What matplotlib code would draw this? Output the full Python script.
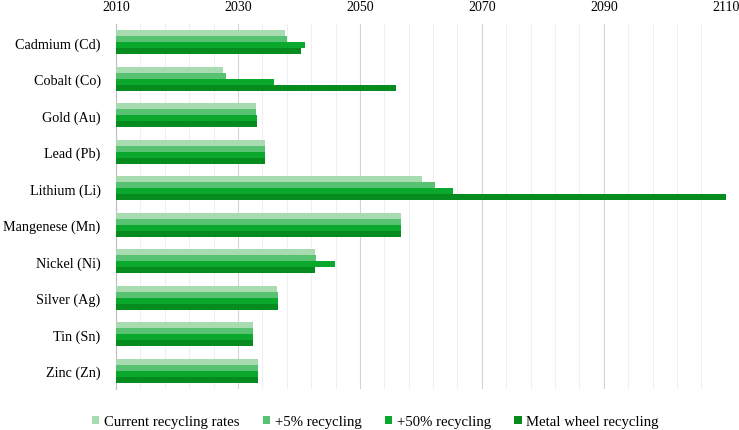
import matplotlib.pyplot as plt
import numpy as np

metals = ['Cadmium (Cd)', 'Cobalt (Co)', 'Gold (Au)', 'Lead (Pb)', 'Lithium (Li)',
          'Mangenese (Mn)', 'Nickel (Ni)', 'Silver (Ag)', 'Tin (Sn)', 'Zinc (Zn)']

# year of depletion per scenario
current = [2037.7, 2027.6, 2032.9, 2034.4, 2060.2, 2056.7, 2042.6, 2036.4, 2032.5, 2033.3]
plus5 = [2038.0, 2028.1, 2033.0, 2034.4, 2062.3, 2056.7, 2042.8, 2036.5, 2032.5, 2033.3]
plus50 = [2041.0, 2035.9, 2033.1, 2034.4, 2065.2, 2056.8, 2045.9, 2036.6, 2032.5, 2033.3]
wheel = [2040.4, 2055.9, 2033.1, 2034.4, 2110.0, 2056.8, 2042.6, 2036.6, 2032.5, 2033.3]

series = [current, plus5, plus50, wheel]
names = ['Current recycling rates', '+5% recycling', '+50% recycling', 'Metal wheel recycling']
colors = ['#a9dbb1', '#57c272', '#0aa82c', '#068b1e']

plt.rcParams['font.family'] = ['Liberation Serif', 'DejaVu Serif']

fig = plt.figure(figsize=(7.39, 4.31), dpi=100)
ax = fig.add_axes([0.157, 0.095, 0.825, 0.847])

base = 2010
y = np.arange(len(metals))
h = 0.165
for i, (vals, c, n) in enumerate(zip(series, colors, names)):
    ax.barh(y + (i - 1.5) * h, np.array(vals) - base, left=base, height=h,
            color=c, label=n, zorder=3)

ax.set_xlim(2010, 2110)
ax.set_ylim(len(metals) - 0.5, -0.5)
ax.set_yticks(y)
ax.set_yticklabels(metals, fontsize=10.2)
ax.set_xticks(np.arange(2010, 2111, 20))
ax.set_xticks(np.arange(2010, 2111, 4), minor=True)
ax.xaxis.tick_top()
ax.tick_params(axis='x', which='both', length=0, labelsize=10, pad=8)
ax.tick_params(axis='y', length=0, pad=11)
ax.grid(axis='x', which='minor', color='#efefef', linewidth=0.8, zorder=0)
ax.grid(axis='x', which='major', color='#d4d4d4', linewidth=0.8, zorder=1)
for s in ['top', 'right', 'bottom']:
    ax.spines[s].set_visible(False)
ax.spines['left'].set_color('#bfbfbf')

fig.legend(loc='center', ncol=4, frameon=False, fontsize=10.6,
           handlelength=0.5, handleheight=0.5, handletextpad=0.3,
           columnspacing=1.6, bbox_to_anchor=(0.508, 0.019))

fig.savefig('out.png', dpi=100)
